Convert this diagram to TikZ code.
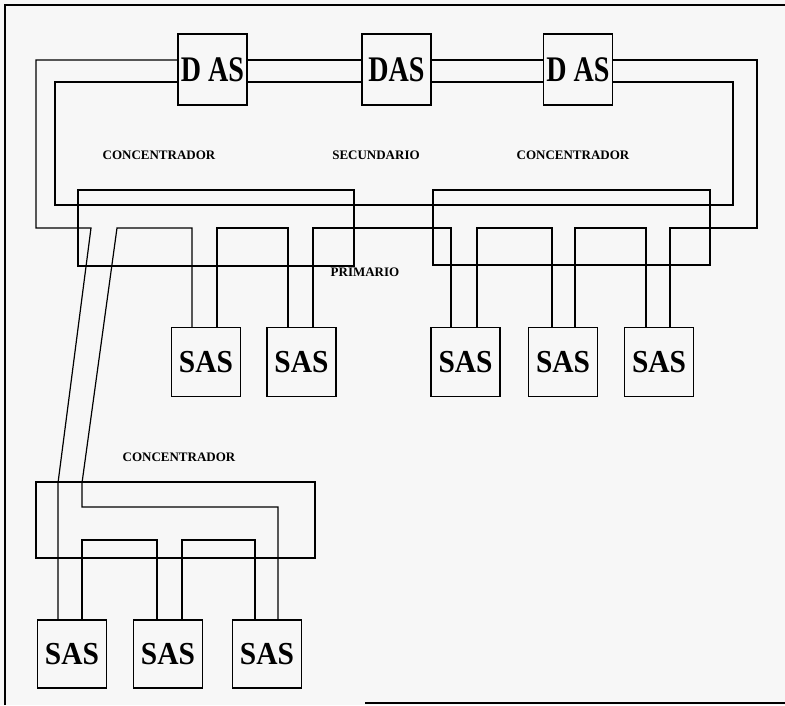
\documentclass[tikz,border=0pt]{standalone}
\usepackage{fontspec}
\setmainfont{Liberation Serif}
\begin{document}
\begin{tikzpicture}[x=1pt,y=-1pt,line width=1.2pt,
  dasbox/.style={draw,minimum width=69pt,minimum height=71pt,inner sep=0pt,
    font=\fontsize{36}{36}\selectfont\bfseries},
  sasbox/.style={draw,minimum width=69pt,minimum height=69pt,inner sep=0pt,
    font=\fontsize{32}{32}\selectfont\bfseries},
  concbox/.style={draw,inner sep=0pt},
  lbl/.style={font=\fontsize{13}{13}\selectfont\bfseries,inner sep=0pt}]
\fill[black!3] (0,0) rectangle (785,705);
\useasboundingbox (0,0) rectangle (785,705);
% frame
\coordinate (f1) at (5,705);
\coordinate (f2) at (5,5);
\coordinate (f3) at (785,5);
\coordinate (f4) at (365,703);
\coordinate (f5) at (785,703);
\draw (f1) -- (f2) -- (f3);
\draw (f4) -- (f5);
% DAS
\node[dasbox] (das1) at (212.5,69.5) {\scalebox{0.78}[1]{D AS}};
\node[dasbox] (das2) at (396.5,69.5) {\scalebox{0.78}[1]{DAS}};
\node[dasbox] (das3) at (578,69.5) {\scalebox{0.78}[1]{D AS}};
% concentrators
\node[concbox,minimum width=276pt,minimum height=76pt] (c1) at (216,228) {};
\node[concbox,minimum width=277pt,minimum height=75pt] (c2) at (571.5,227.5) {};
\node[concbox,minimum width=279pt,minimum height=76pt] (c3) at (175.5,520) {};
% labels
\node[lbl] (l1) at (159,155) {CONCENTRADOR};
\node[lbl] (l2) at (376,155) {SECUNDARIO};
\node[lbl] (l3) at (573,155) {CONCENTRADOR};
\node[lbl] (l4) at (365,272) {PRIMARIO};
\node[lbl] (l5) at (179,457) {CONCENTRADOR};
% SAS
\node[sasbox] (s1) at (206,362) {\scalebox{0.92}[1]{SAS}};
\node[sasbox] (s2) at (301.5,362) {\scalebox{0.92}[1]{SAS}};
\node[sasbox] (s3) at (465.5,362) {\scalebox{0.92}[1]{SAS}};
\node[sasbox] (s4) at (563,362) {\scalebox{0.92}[1]{SAS}};
\node[sasbox] (s5) at (659,362) {\scalebox{0.92}[1]{SAS}};
\node[sasbox,minimum height=68pt] (s7) at (72,654) {\scalebox{0.92}[1]{SAS}};
\node[sasbox,minimum height=68pt] (s8) at (168,654) {\scalebox{0.92}[1]{SAS}};
\node[sasbox,minimum height=68pt] (s9) at (267,654) {\scalebox{0.92}[1]{SAS}};
% secondary ring (upper)
\draw (das1.east |- 0,60) -- (das2.west |- 0,60);
\draw (das2.east |- 0,60) -- (das3.west |- 0,60);
\draw (das1.west |- 0,60) -- (36,60) -- (36,228) -- (91,228) -- (58,483) -- (58,0 |- s7.north);
\draw (das3.east |- 0,60) -- (757,60) -- (757,228) -- (670,228) -- (670,0 |- s5.north);
% inner ring
\draw (das1.east |- 0,82) -- (das2.west |- 0,82);
\draw (das2.east |- 0,82) -- (das3.west |- 0,82);
\draw (das1.west |- 0,82) -- (55,82) -- (55,205) -- (733,205) -- (733,82) -- (das3.east |- 0,82);
% primary chain
\draw (278,0 |- s9.north) -- (278,507) -- (82,507) -- (82,483) -- (117,228) -- (192,228) -- (192,0 |- s1.north);
\draw (217,0 |- s1.north) -- (217,228) -- (288,228) -- (288,0 |- s2.north);
\draw (313,0 |- s2.north) -- (313,228) -- (451,228) -- (451,0 |- s3.north);
\draw (477,0 |- s3.north) -- (477,228) -- (552,228) -- (552,0 |- s4.north);
\draw (575,0 |- s4.north) -- (575,228) -- (646,228) -- (646,0 |- s5.north);
\draw (82,0 |- s7.north) -- (82,540) -- (157,540) -- (157,0 |- s8.north);
\draw (182,0 |- s8.north) -- (182,540) -- (255,540) -- (255,0 |- s9.north);
\end{tikzpicture}
\end{document}
